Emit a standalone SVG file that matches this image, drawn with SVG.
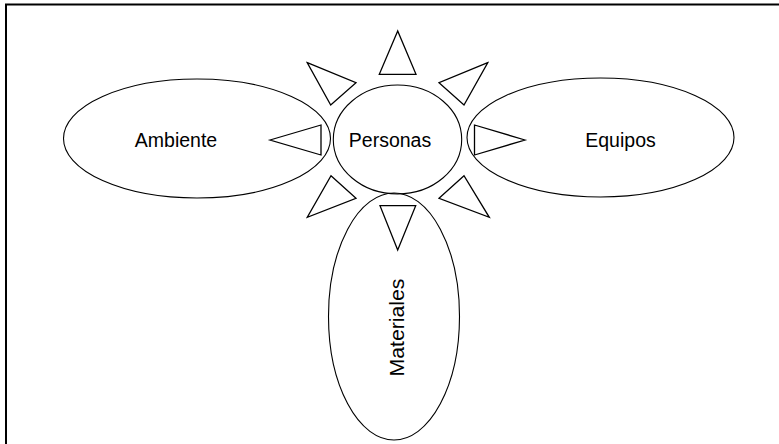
<svg xmlns="http://www.w3.org/2000/svg" width="779" height="444" viewBox="0 0 779 444">
  <style>
    .node { fill: none; stroke: #000; stroke-width: 1.1; }
    .ray { fill: none; stroke: #000; stroke-width: 1.3; stroke-linejoin: miter; }
    .label { font-family: "Liberation Sans", Arial, sans-serif; font-size: 19.5px; fill: #000; text-anchor: middle; }
    .frame { fill: none; stroke: #000; stroke-width: 2; }
  </style>
  <rect width="779" height="444" fill="#fff"/>
  <path class="frame" d="M6,444 V4.5 H779"/>

  <g id="ambiente">
    <ellipse class="node" cx="197" cy="138.5" rx="133.5" ry="59.5"/>
    <text class="label" x="176" y="146.5">Ambiente</text>
  </g>
  <g id="equipos">
    <ellipse class="node" cx="600.5" cy="137.5" rx="133.5" ry="59.5"/>
    <text class="label" x="620.5" y="146.5">Equipos</text>
  </g>
  <g id="materiales">
    <ellipse class="node" cx="394" cy="316.5" rx="65.5" ry="123.5"/>
    <text class="label" transform="translate(403.5,327.5) rotate(-90)" textLength="98" lengthAdjust="spacingAndGlyphs">Materiales</text>
  </g>
  <g id="personas">
    <ellipse class="node" cx="397.5" cy="139.5" rx="64.2" ry="54.5"/>
    <text class="label" x="390" y="146.5">Personas</text>
  </g>

  <g id="connectors">
    <polygon class="ray" points="397.7,31 379.3,74.3 416,74.3"/>
    <polygon class="ray" points="307.3,62.7 356,82.7 330.7,105"/>
    <polygon class="ray" points="487.7,62.7 439,82.7 464,105"/>
    <polygon class="ray" points="270,140 321,125 321,155"/>
    <polygon class="ray" points="525,140 474.5,125 474.5,155"/>
    <polygon class="ray" points="331,175.7 356,198.3 307.3,217.3"/>
    <polygon class="ray" points="464,175.7 439,198.3 489.3,217.3"/>
    <polygon class="ray" points="380,205.7 415.7,205.7 397.7,250"/>
  </g>
</svg>
